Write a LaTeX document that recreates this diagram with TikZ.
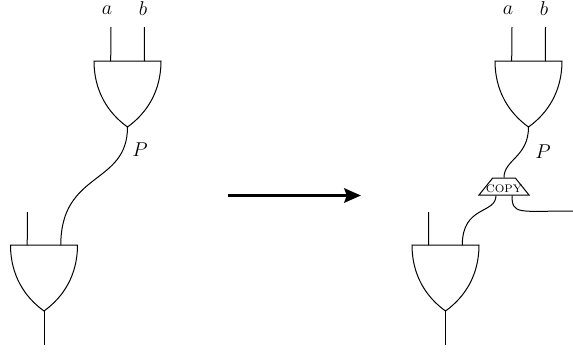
\documentclass[tikz,border=0pt]{standalone}
\usetikzlibrary{shapes.geometric,arrows.meta}
\tikzset{
  wire/.style={line width=.6pt},
  bigarr/.style={-{Stealth[length=10pt,width=8.5pt,inset=1.5pt]},line width=2.3pt},
  lbl/.style={font=\large},
  copybox/.style={draw,wire,trapezium,trapezium angle=45,trapezium stretches body,inner sep=0pt,minimum width=30pt,minimum height=10.2pt,text height=7.6pt,text depth=.6pt,font=\fontsize{6.6}{7}\selectfont},
  pics/andgate/.style={code={
    \coordinate (-a) at (16.7,0);
    \coordinate (-b) at (50.3,0);
    \coordinate (-out) at (33.5,-66);
    \draw[wire] (0,0) -- (67,0) .. controls (67,-30) and (53,-52) .. (-out) .. controls (14,-52) and (0,-30) .. cycle;
  }}
}
\begin{document}
\begin{tikzpicture}[x=.6pt,y=.6pt]
  \useasboundingbox (0,0) rectangle (573,351);
  % before
  \pic (ga) at (94,290) {andgate};
  \pic (gb) at (10.5,106) {andgate};
  \node[lbl] (la) at (107,341) {$a$};
  \node[lbl] (lb) at (143,342) {$b$};
  \node[lbl] (lp) at (140,201) {$P$};
  \coordinate (ina) at (111,324);
  \coordinate (inb) at (144.5,324);
  \coordinate (inc) at (27.5,139);
  \coordinate (outb) at (44,6);
  \draw[wire] (ina) -- (ga-a);
  \draw[wire] (inb) -- (ga-b);
  \draw[wire] (inc) -- (gb-a);
  \draw[wire] (gb-out) -- (outb);
  \draw[wire] (ga-out) to[out=-90,in=90,out looseness=1.1,in looseness=1.4] (gb-b);

  % arrow
  \coordinate (from) at (228,155.5);
  \coordinate (to) at (361,155.5);
  \draw[bigarr] (from) -- (to);

  % after
  \pic (gc) at (495,290) {andgate};
  \pic (gd) at (412,106) {andgate};
  \node[lbl] (lc) at (508,341) {$a$};
  \node[lbl] (ld) at (544,342) {$b$};
  \node[lbl] (lq) at (543,199) {$P$};
  \node[copybox] (copy) at (504,164.5) {\makebox[0pt]{COPY}};
  \coordinate (ine) at (512,324);
  \coordinate (inf) at (545.5,324);
  \coordinate (ing) at (428.5,139);
  \coordinate (outd) at (445.5,6);
  \coordinate (rest) at (573,140);
  \draw[wire] (ine) -- (gc-a);
  \draw[wire] (inf) -- (gc-b);
  \draw[wire] (ing) -- (gd-a);
  \draw[wire] (gd-out) -- (outd);
  \draw[wire] (gc-out) to[out=-90,in=90,out looseness=1.37,in looseness=.82] (copy.north);
  \draw[wire] ([xshift=-4.8pt]copy.south) to[out=-90,in=90,out looseness=.8,in looseness=1.7] (gd-b);
  \draw[wire] ([xshift=4.8pt]copy.south) to[out=-90,in=180,out looseness=.8,in looseness=2.2] (rest);
\end{tikzpicture}
\end{document}
